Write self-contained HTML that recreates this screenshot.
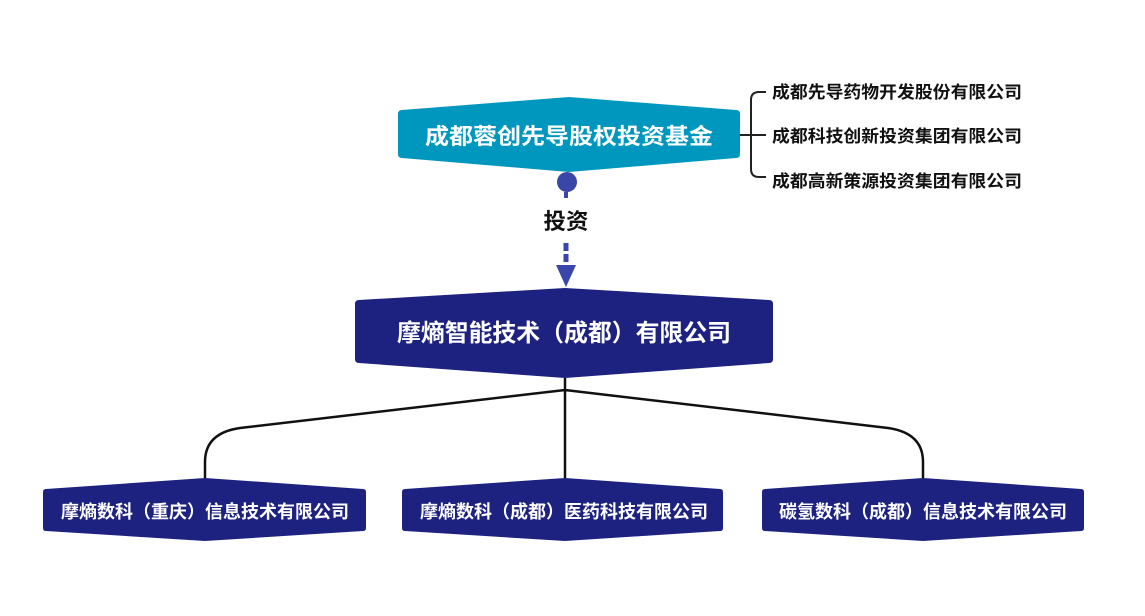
<!DOCTYPE html>
<html><head><meta charset="utf-8"><style>
html,body{margin:0;padding:0;background:#fff;width:1145px;height:616px;overflow:hidden}
text{font-family:"Liberation Sans","Noto Sans CJK SC",sans-serif;font-weight:bold}
</style></head><body>
<svg width="1145" height="616" viewBox="0 0 1145 616" xmlns="http://www.w3.org/2000/svg">
<path d="M402 110 L569 97 L736 110 Q740 110 740 114 L740 154 Q740 158 736 158 L569 172 L402 158 Q398 158 398 154 L398 114 Q398 110 402 110 Z" fill="#0097bf"/>
<text x="569" y="144" text-anchor="middle" font-size="22" fill="#fff" textLength="288" lengthAdjust="spacingAndGlyphs">成都蓉创先导股权投资基金</text>
<path d="M740 135 L766 135 M766 92 L759 92 Q751 92 751 100 L751 169 Q751 177 759 177 L766 177" stroke="#222" stroke-width="2" fill="none"/>
<text x="772" y="98" font-size="17" fill="#111" textLength="250" lengthAdjust="spacingAndGlyphs">成都先导药物开发股份有限公司</text>
<text x="772" y="142" font-size="17" fill="#111" textLength="250" lengthAdjust="spacingAndGlyphs">成都科技创新投资集团有限公司</text>
<text x="772" y="187" font-size="17" fill="#111" textLength="250" lengthAdjust="spacingAndGlyphs">成都高新策源投资集团有限公司</text>
<circle cx="567" cy="182" r="10" fill="#3a47a8"/>
<line x1="566" y1="192" x2="566" y2="198" stroke="#3a47a8" stroke-width="4"/>
<text x="566" y="229" text-anchor="middle" font-size="22" fill="#111" textLength="45" lengthAdjust="spacingAndGlyphs">投资</text>
<line x1="566" y1="243" x2="566" y2="266" stroke="#3a47a8" stroke-width="5" stroke-dasharray="8,3"/>
<path d="M556 265 L576 265 L566 287 Z" fill="#3a47a8"/>
<path d="M359 300 L565 288 L769 300 Q773 300 773 304 L773 359 Q773 363 769 363 L565 378 L359 363 Q355 363 355 359 L355 304 Q355 300 359 300 Z" fill="#1d2180"/>
<text x="564" y="341" text-anchor="middle" font-size="24" fill="#fff" textLength="334" lengthAdjust="spacingAndGlyphs">摩熵智能技术（成都）有限公司</text>
<path d="M565 378 L565 478 M565 390 L240 428 Q205 433 205 462 L205 478 M565 390 L888 428 Q923 433 923 462 L923 478" stroke="#111" stroke-width="2.5" fill="none"/>
<g fill="#1d2180">
<path d="M46 489 L205 478 L363 489 Q366 489 366 492 L366 528 Q366 531 363 531 L205 541 L46 531 Q43 531 43 528 L43 492 Q43 489 46 489 Z"/>
<path d="M405 489 L565 478 L720 489 Q723 489 723 492 L723 528 Q723 531 720 531 L565 541 L405 531 Q402 531 402 528 L402 492 Q402 489 405 489 Z"/>
<path d="M765 489 L923 478 L1081 489 Q1084 489 1084 492 L1084 528 Q1084 531 1081 531 L923 541 L765 531 Q762 531 762 528 L762 492 Q762 489 765 489 Z"/>
</g>
<text x="205" y="518" text-anchor="middle" font-size="18" fill="#fff" textLength="288" lengthAdjust="spacingAndGlyphs">摩熵数科（重庆）信息技术有限公司</text>
<text x="564" y="518" text-anchor="middle" font-size="18" fill="#fff" textLength="288" lengthAdjust="spacingAndGlyphs">摩熵数科（成都）医药科技有限公司</text>
<text x="923" y="518" text-anchor="middle" font-size="18" fill="#fff" textLength="288" lengthAdjust="spacingAndGlyphs">碳氢数科（成都）信息技术有限公司</text>
</svg>
</body></html>
